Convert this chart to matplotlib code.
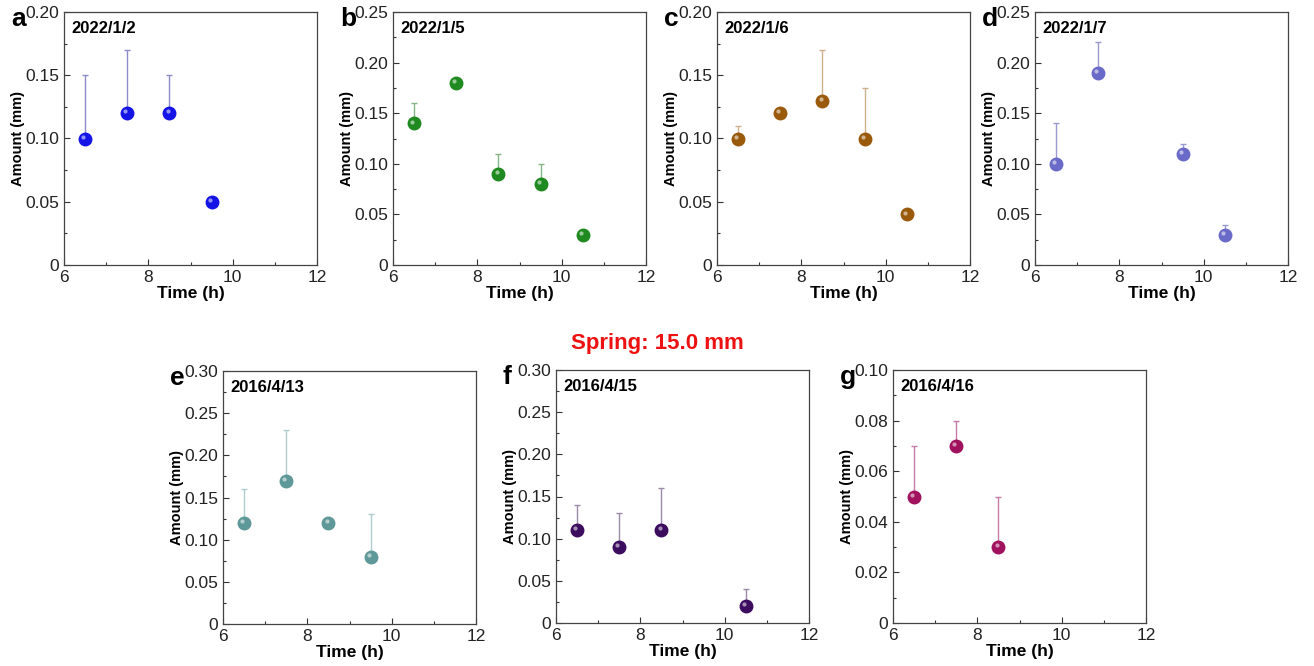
import matplotlib
matplotlib.use('Agg')
import matplotlib.pyplot as plt
from matplotlib.ticker import MultipleLocator, AutoMinorLocator, FuncFormatter
from matplotlib.transforms import offset_copy

plt.rcParams['font.family'] = ['Liberation Sans', 'DejaVu Sans']

# Datos (tiempo en h, cantidad en mm, barra de error solo hacia arriba)
dates = ['2022/1/2', '2022/1/5', '2022/1/6', '2022/1/7', '2016/4/13', '2016/4/15', '2016/4/16']
letters = ['a', 'b', 'c', 'd', 'e', 'f', 'g']

time_a = [6.5, 7.5, 8.5, 9.5]
amount_a = [0.10, 0.12, 0.12, 0.05]
err_a = [0.05, 0.05, 0.03, 0.0]

time_b = [6.5, 7.5, 8.5, 9.5, 10.5]
amount_b = [0.14, 0.18, 0.09, 0.08, 0.03]
err_b = [0.02, 0.0, 0.02, 0.02, 0.0]

time_c = [6.5, 7.5, 8.5, 9.5, 10.5]
amount_c = [0.10, 0.12, 0.13, 0.10, 0.04]
err_c = [0.01, 0.0, 0.04, 0.04, 0.0]

time_d = [6.5, 7.5, 9.5, 10.5]
amount_d = [0.10, 0.19, 0.11, 0.03]
err_d = [0.04, 0.03, 0.01, 0.01]

time_e = [6.5, 7.5, 8.5, 9.5]
amount_e = [0.12, 0.17, 0.12, 0.08]
err_e = [0.04, 0.06, 0.0, 0.05]

time_f = [6.5, 7.5, 8.5, 10.5]
amount_f = [0.11, 0.09, 0.11, 0.02]
err_f = [0.03, 0.04, 0.05, 0.02]

time_g = [6.5, 7.5, 8.5]
amount_g = [0.05, 0.07, 0.03]
err_g = [0.02, 0.01, 0.02]

ymax = [0.20, 0.25, 0.20, 0.25, 0.30, 0.30, 0.10]
ystep = [0.05, 0.05, 0.05, 0.05, 0.05, 0.05, 0.02]

colors = ['#1414e6', '#1f8a1f', '#9a5a0c', '#6a6ac8', '#5e9898', '#3c0c5e', '#a0115e']
err_colors = ['#8c8cc8', '#86b486', '#cdb08c', '#9a9ad0', '#b0cccc', '#9a8aa8', '#c67aa6']

series = [
    (time_a, amount_a, err_a),
    (time_b, amount_b, err_b),
    (time_c, amount_c, err_c),
    (time_d, amount_d, err_d),
    (time_e, amount_e, err_e),
    (time_f, amount_f, err_f),
    (time_g, amount_g, err_g),
]

# posiciones de los ejes en pixeles (izq, arriba) de la imagen original
W, H = 1314, 666
axw, axh = 253, 253
boxes = [(64, 12), (393, 12), (717, 12), (1035, 12),
         (223, 371), (556, 370), (893, 370)]

fig = plt.figure(figsize=(W / 100, H / 100), dpi=100)


def fmt(v, pos):
    if abs(v) < 1e-9:
        return '0'
    return '%.2f' % v


for i, (x, y, e) in enumerate(series):
    left, top = boxes[i]
    ax = fig.add_axes([left / W, (H - top - axh) / H, axw / W, axh / H])
    low = [0] * len(e)
    ax.errorbar(x, y, yerr=[low, e], fmt='none', ecolor=err_colors[i],
                elinewidth=1.0, capsize=2.5, capthick=1.0, zorder=2)
    ax.plot(x, y, 'o', ms=9, color=colors[i], mec=colors[i], zorder=3)
    hl = offset_copy(ax.transData, fig=fig, x=-1.3, y=1.3, units='points')
    ax.plot(x, y, 'o', ms=3, color='white', mec='none', alpha=0.55,
            transform=hl, zorder=4)

    ax.set_xlim(6, 12)
    ax.set_ylim(0, ymax[i])
    ax.xaxis.set_major_locator(MultipleLocator(2))
    ax.xaxis.set_minor_locator(AutoMinorLocator(2))
    ax.yaxis.set_major_locator(MultipleLocator(ystep[i]))
    ax.yaxis.set_minor_locator(AutoMinorLocator(2))
    ax.yaxis.set_major_formatter(FuncFormatter(fmt))
    ax.tick_params(which='both', direction='in', top=False, right=False,
                   labelsize=12.5, colors='#333333', labelcolor='#222222')
    ax.tick_params(which='major', length=4, width=0.8)
    ax.tick_params(which='minor', length=2.5, width=0.8)
    for sp in ax.spines.values():
        sp.set_color('#444444')
        sp.set_linewidth(0.9)

    ax.set_xlabel('Time (h)', fontsize=12.5, fontweight='bold', labelpad=1)
    ax.set_ylabel('Amount (mm)', fontsize=10.5, fontweight='bold', labelpad=0)
    ax.text(0.03, 0.965, dates[i], transform=ax.transAxes, ha='left', va='top',
            fontsize=12, fontweight='bold')
    ax.text(-0.21, 0.945, letters[i], transform=ax.transAxes, ha='left',
            va='baseline', fontsize=19, fontweight='bold')

fig.text(0.5, 1 - 343 / H, 'Spring: 15.0 mm', color='#ee1111', ha='center',
         va='center', fontsize=16, fontweight='bold')

fig.savefig('out.png', dpi=100)
